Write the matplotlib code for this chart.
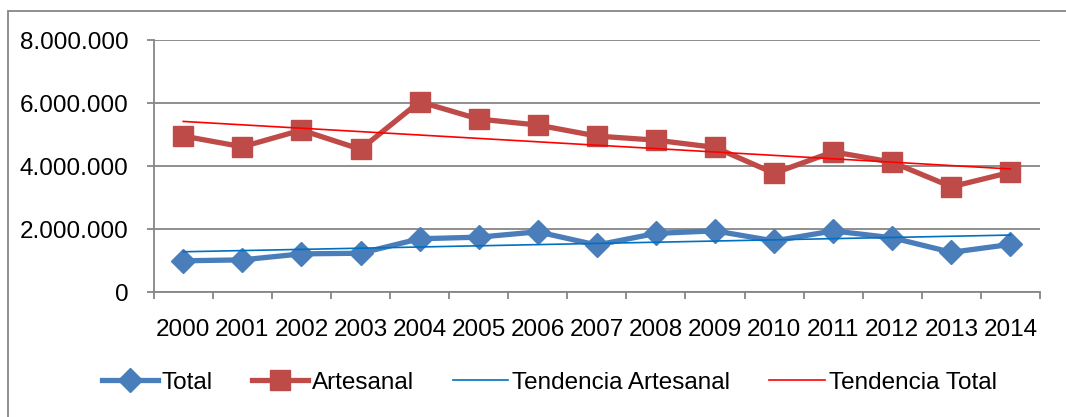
import numpy as np
import matplotlib
matplotlib.use("Agg")
import matplotlib.pyplot as plt
from matplotlib.patches import Rectangle
from matplotlib.ticker import FuncFormatter, FixedLocator

years = ["2000", "2001", "2002", "2003", "2004", "2005", "2006", "2007",
         "2008", "2009", "2010", "2011", "2012", "2013", "2014"]
total = [1000000, 1030000, 1220000, 1240000, 1700000, 1750000, 1920000, 1500000,
         1870000, 1950000, 1630000, 1950000, 1730000, 1270000, 1520000]
artesanal = [4960000, 4620000, 5150000, 4540000, 6050000, 5500000, 5310000, 4960000,
             4830000, 4600000, 3780000, 4460000, 4130000, 3350000, 3810000]
yticks = [0, 2000000, 4000000, 6000000, 8000000]

plt.rcParams['font.family'] = ['Liberation Sans', 'DejaVu Sans']

fig = plt.figure(figsize=(10.66, 4.17), dpi=100)
ax = fig.add_axes([153.7/1066, 1-292.3/417, (1040-153.7)/1066, (292.3-40.3)/417])

x = np.arange(len(years))
grid_c = "#868686"

ax.plot(x, total, color="#4A7EBB", lw=3.8, marker="D", ms=12.5,
        mfc="#4A7EBB", mec="#4A7EBB", label="Total", zorder=3)
ax.plot(x, artesanal, color="#BE4B48", lw=3.8, marker="s", ms=14,
        mfc="#BE4B48", mec="#BE4B48", label="Artesanal", zorder=3)

pt = np.polyfit(x, total, 1)
pa = np.polyfit(x, artesanal, 1)
ax.plot(x, np.polyval(pt, x), color="#0070C0", lw=1.2, label="Tendencia Artesanal", zorder=4)
ax.plot(x, np.polyval(pa, x), color="#FF0000", lw=1.2, label="Tendencia Total", zorder=4)

ax.set_xlim(-0.5, len(years) - 0.5)
ax.set_ylim(0, 8000000)
ax.set_yticks(yticks)
ax.yaxis.set_major_formatter(FuncFormatter(lambda v, p: f"{int(v):,}".replace(",", ".")))
ax.yaxis.grid(True, color=grid_c, lw=1.3)
ax.set_axisbelow(True)

ax.xaxis.set_major_locator(FixedLocator(np.arange(-0.5, len(years), 1.0)))
ax.xaxis.set_major_formatter(FuncFormatter(lambda v, p: ""))
ax.xaxis.set_minor_locator(FixedLocator(x))
ax.set_xticks(x, years, minor=True)

for s in ["top", "right"]:
    ax.spines[s].set_visible(False)
for s in ["left", "bottom"]:
    ax.spines[s].set_color(grid_c)
    ax.spines[s].set_linewidth(1.3)

ax.tick_params(axis="y", which="major", length=5, color=grid_c, width=1.3,
               labelsize=17.5, pad=13, labelcolor="black")
ax.tick_params(axis="x", which="major", length=5, color=grid_c, width=1.3)
ax.tick_params(axis="x", which="minor", length=0, labelsize=17.5, pad=19)

leg = fig.legend(loc="center", bbox_to_anchor=(549.5/1066, 1-383/417), ncol=4,
                 frameon=False, fontsize=17.5, handlelength=2.3, handletextpad=0.15,
                 columnspacing=1.6)

fig.patches.append(Rectangle((8/1066, -0.1), 1.2, 1 - 11/417 + 0.1,
                             transform=fig.transFigure, fill=False,
                             edgecolor=grid_c, lw=1.3))

fig.savefig("out.png", dpi=100)
